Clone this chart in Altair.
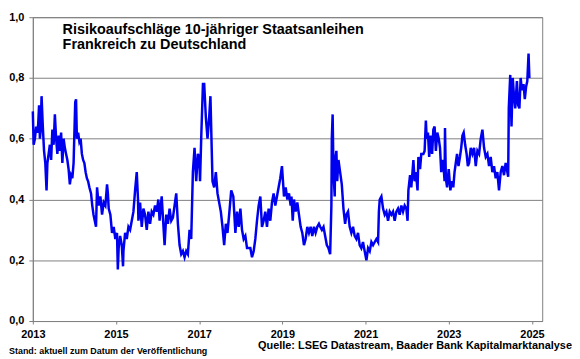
import altair as alt
import pandas as pd

# decimal-year positions and spread values (percentage points)
t_year = [
    2013.00, 2013.02, 2013.05, 2013.08, 2013.11, 2013.13, 2013.15, 2013.17, 2013.19, 2013.21,
    2013.24, 2013.27, 2013.30, 2013.33, 2013.35, 2013.38, 2013.41, 2013.44, 2013.47, 2013.50,
    2013.53, 2013.56, 2013.59, 2013.62, 2013.65, 2013.68, 2013.71, 2013.74, 2013.77, 2013.80,
    2013.83, 2013.86, 2013.89, 2013.92, 2013.95, 2013.98, 2014.02, 2014.04, 2014.06, 2014.09,
    2014.12, 2014.15, 2014.18, 2014.21, 2014.24, 2014.27, 2014.30, 2014.33, 2014.36, 2014.40,
    2014.43, 2014.46, 2014.49, 2014.52,
    2014.545, 2014.585, 2014.625, 2014.665, 2014.705, 2014.745, 2014.785, 2014.805, 2014.825, 2014.865,
    2014.905, 2014.945, 2014.985, 2015.025, 2015.045, 2015.065, 2015.10, 2015.14, 2015.17, 2015.18,
    2015.22, 2015.26, 2015.30, 2015.34, 2015.38, 2015.42, 2015.46, 2015.50, 2015.53, 2015.54,
    2015.58, 2015.62, 2015.66, 2015.70, 2015.74, 2015.78, 2015.82, 2015.86, 2015.90, 2015.94,
    2015.98, 2016.02,
    2016.05, 2016.10, 2016.17, 2016.21, 2016.25, 2016.29, 2016.33, 2016.37, 2016.45, 2016.49,
    2016.53, 2016.57, 2016.61, 2016.65, 2016.69, 2016.73, 2016.77, 2016.81, 2016.85, 2016.89,
    2016.93, 2016.97, 2017.00, 2017.02, 2017.05, 2017.09, 2017.12, 2017.16, 2017.20, 2017.24,
    2017.27, 2017.30, 2017.32, 2017.36, 2017.40, 2017.44,
    2017.52, 2017.56, 2017.60, 2017.64, 2017.68, 2017.72, 2017.77, 2017.82, 2017.87, 2017.91,
    2017.95, 2017.99, 2018.03, 2018.07, 2018.11, 2018.15, 2018.23, 2018.27, 2018.31, 2018.35,
    2018.39, 2018.43, 2018.47, 2018.51, 2018.55, 2018.59, 2018.63, 2018.67, 2018.71, 2018.75,
    2018.79, 2018.83, 2018.87, 2018.91, 2018.95, 2018.99,
    2019.04, 2019.08, 2019.12, 2019.16, 2019.20, 2019.22, 2019.25, 2019.28, 2019.32, 2019.36,
    2019.40, 2019.44, 2019.48, 2019.52, 2019.56, 2019.60, 2019.64, 2019.68, 2019.72, 2019.76,
    2019.80, 2019.84, 2019.88, 2019.91, 2019.95, 2019.99, 2020.03, 2020.07, 2020.11, 2020.15,
    2020.18, 2020.19, 2020.21, 2020.23, 2020.26, 2020.27, 2020.30, 2020.32, 2020.35, 2020.39,
    2020.43, 2020.47, 2020.51,
    2020.54, 2020.58, 2020.62, 2020.66, 2020.70, 2020.74, 2020.78, 2020.82, 2020.86, 2020.90,
    2020.94, 2020.98, 2021.02, 2021.06, 2021.10, 2021.14, 2021.18, 2021.22, 2021.26, 2021.30,
    2021.32, 2021.34, 2021.38, 2021.42, 2021.46, 2021.50, 2021.54, 2021.58, 2021.62, 2021.66,
    2021.70, 2021.74, 2021.78, 2021.82, 2021.86, 2021.90, 2021.94, 2021.98,
    2022.01, 2022.03, 2022.07, 2022.10, 2022.15, 2022.18, 2022.21, 2022.25, 2022.27, 2022.31,
    2022.34, 2022.39, 2022.42, 2022.45, 2022.47, 2022.50, 2022.53, 2022.565, 2022.60, 2022.63,
    2022.66, 2022.69, 2022.725, 2022.76, 2022.79, 2022.82, 2022.85, 2022.88, 2022.90, 2022.91,
    2022.93, 2022.96, 2023.00, 2023.04, 2023.075, 2023.11, 2023.14, 2023.17, 2023.20, 2023.235,
    2023.27, 2023.30, 2023.33, 2023.36, 2023.395, 2023.43, 2023.46,
    2023.49, 2023.53, 2023.57, 2023.61, 2023.65, 2023.69, 2023.73, 2023.77, 2023.81, 2023.85,
    2023.89, 2023.93, 2023.97, 2024.01, 2024.05, 2024.09, 2024.13, 2024.17, 2024.21, 2024.25,
    2024.29, 2024.33, 2024.37, 2024.41, 2024.43, 2024.445, 2024.48, 2024.51, 2024.54, 2024.57,
    2024.60, 2024.64, 2024.67, 2024.70, 2024.73, 2024.76, 2024.80, 2024.83, 2024.86, 2024.89,
    2024.92, 2024.94,
]

spread = [
    0.69, 0.58, 0.60, 0.64, 0.62, 0.65, 0.71, 0.60, 0.63, 0.74,
    0.64, 0.56, 0.52, 0.43, 0.52, 0.55, 0.58, 0.53, 0.63, 0.58,
    0.68, 0.60, 0.55, 0.61, 0.56, 0.62, 0.52, 0.60, 0.57, 0.55,
    0.53, 0.50, 0.45, 0.48, 0.47, 0.52, 0.72, 0.73, 0.60, 0.62,
    0.59, 0.60, 0.55, 0.53, 0.52, 0.49, 0.47, 0.46, 0.44, 0.42,
    0.38, 0.35, 0.33, 0.31,
    0.44, 0.38, 0.41, 0.35, 0.39, 0.38, 0.45, 0.42, 0.37, 0.35,
    0.29, 0.31, 0.27, 0.29, 0.17, 0.24, 0.28, 0.25, 0.18, 0.23,
    0.29, 0.27, 0.31, 0.30, 0.33, 0.36, 0.43, 0.49, 0.40, 0.33,
    0.39, 0.31, 0.37, 0.35, 0.30, 0.36, 0.32, 0.36, 0.35, 0.38,
    0.36, 0.40,
    0.33, 0.41, 0.25, 0.35, 0.32, 0.37, 0.33, 0.34, 0.42, 0.32,
    0.25, 0.22, 0.23, 0.21, 0.23, 0.22, 0.30, 0.27, 0.49, 0.57,
    0.46, 0.55, 0.54, 0.46, 0.61, 0.78, 0.78, 0.67, 0.60, 0.67,
    0.74, 0.57, 0.46, 0.44, 0.49, 0.42,
    0.36, 0.31, 0.25, 0.32, 0.29, 0.35, 0.43, 0.41, 0.29, 0.36,
    0.31, 0.37, 0.30, 0.27, 0.28, 0.24, 0.24, 0.21, 0.23, 0.27,
    0.33, 0.38, 0.41, 0.31, 0.33, 0.36, 0.31, 0.37, 0.33, 0.39,
    0.42, 0.38, 0.41, 0.44, 0.47, 0.51,
    0.41, 0.44, 0.40, 0.42, 0.38, 0.41, 0.33, 0.40, 0.36, 0.39,
    0.35, 0.31, 0.29, 0.25, 0.27, 0.31, 0.29, 0.31, 0.28, 0.31,
    0.29, 0.31, 0.32, 0.31, 0.30, 0.31, 0.28, 0.25, 0.24, 0.22,
    0.38, 0.60, 0.68, 0.49, 0.41, 0.53, 0.56, 0.46, 0.53, 0.49,
    0.45, 0.37, 0.32,
    0.35, 0.36, 0.31, 0.29, 0.31, 0.28, 0.27, 0.29, 0.25, 0.24,
    0.26, 0.23, 0.20, 0.24, 0.23, 0.26, 0.25, 0.26, 0.27, 0.26,
    0.36, 0.40, 0.41, 0.37, 0.35, 0.36, 0.33, 0.36, 0.35, 0.36,
    0.33, 0.36, 0.37, 0.35, 0.38, 0.36, 0.38, 0.37,
    0.33, 0.43, 0.48, 0.44, 0.53, 0.46, 0.49, 0.43, 0.54, 0.50,
    0.55, 0.55, 0.56, 0.66, 0.60, 0.62, 0.54, 0.61, 0.55, 0.63,
    0.64, 0.56, 0.62, 0.60, 0.57, 0.49, 0.53, 0.50, 0.46, 0.635,
    0.47, 0.44, 0.50, 0.43, 0.46, 0.44, 0.49, 0.52, 0.55, 0.51,
    0.54, 0.57, 0.61, 0.62, 0.58, 0.55, 0.51,
    0.52, 0.57, 0.55, 0.57, 0.51, 0.56, 0.55, 0.60, 0.63, 0.57,
    0.54, 0.55, 0.51, 0.54, 0.49, 0.51, 0.47, 0.49, 0.43, 0.49,
    0.51, 0.48, 0.52, 0.49, 0.475, 0.70, 0.81, 0.64, 0.80, 0.74,
    0.70, 0.79, 0.71, 0.70, 0.80, 0.76, 0.78, 0.73, 0.77, 0.79,
    0.88, 0.80,
]

x_tick_years = [2013, 2015, 2017, 2019, 2021, 2023, 2025]
y_ticks = [0.0, 0.2, 0.4, 0.6, 0.8, 1.0]
title_lines = ["Risikoaufschläge 10-jähriger Staatsanleihen", "Frankreich zu Deutschland"]
source_text = "Quelle: LSEG Datastream, Baader Bank Kapitalmarktanalyse"
stand_text = "Stand: aktuell zum Datum der Veröffentlichung"


def to_date(y):
    yr = int(y)
    return pd.Timestamp(yr, 1, 1) + pd.Timedelta(days=(y - yr) * 365.25)


df = pd.DataFrame({"date": [to_date(v) for v in t_year], "spread": spread})

FONT = "Liberation Sans, Arial, sans-serif"
W, H = 513, 306

x_scale = alt.Scale(domain=[pd.Timestamp(2013, 1, 1).isoformat(), pd.Timestamp(2025, 4, 1).isoformat()])
tick_vals = [alt.DateTime(year=y, month=1, date=1) for y in x_tick_years]

line = alt.Chart(df).mark_line(color="#0000F0", strokeWidth=2.5, strokeJoin="miter").encode(
    x=alt.X("date:T", scale=x_scale, title=None,
            axis=alt.Axis(values=tick_vals, format="%Y", grid=False, tickSize=3,
                          labelPadding=5, labelFlush=False)),
    y=alt.Y("spread:Q", scale=alt.Scale(domain=[0, 1], nice=False), title=None,
            axis=alt.Axis(values=y_ticks, grid=True, tickSize=4, labelPadding=5,
                          labelExpr="replace(format(datum.value, '.1f'), '.', ',')")),
)

title1 = alt.Chart(pd.DataFrame({"t": [title_lines[0]]})).mark_text(
    align="left", baseline="alphabetic", font=FONT, fontSize=14.5, fontWeight="bold", color="black"
).encode(text="t:N", x=alt.value(30), y=alt.value(17))

title2 = alt.Chart(pd.DataFrame({"t": [title_lines[1]]})).mark_text(
    align="left", baseline="alphabetic", font=FONT, fontSize=14.5, fontWeight="bold", color="black"
).encode(text="t:N", x=alt.value(30), y=alt.value(32.5))

source = alt.Chart(pd.DataFrame({"t": [source_text]})).mark_text(
    align="right", baseline="alphabetic", font=FONT, fontSize=11, fontWeight="bold", color="black"
).encode(text="t:N", x=alt.value(543), y=alt.value(334.5))

stand = alt.Chart(pd.DataFrame({"t": [stand_text]})).mark_text(
    align="left", baseline="alphabetic", font=FONT,
    fontSize=9, fontWeight="bold", color="black"
).encode(text="t:N", x=alt.value(-24), y=alt.value(339.5))

chart = alt.layer(line, title1, title2, source, stand).properties(
    width=W, height=H, autosize="none",
    padding={"left": 25, "top": 8, "right": 30, "bottom": 36},
).configure_view(stroke="#808080", strokeWidth=1).configure_axis(
    labelFont=FONT, labelFontWeight="bold", labelFontSize=11, labelColor="black",
    domainColor="#808080", tickColor="#808080", gridColor="#808080", gridOpacity=1,
    domainWidth=1, gridWidth=1,
)

chart.save("out.html", embed_options={"renderer": "svg", "actions": False})
